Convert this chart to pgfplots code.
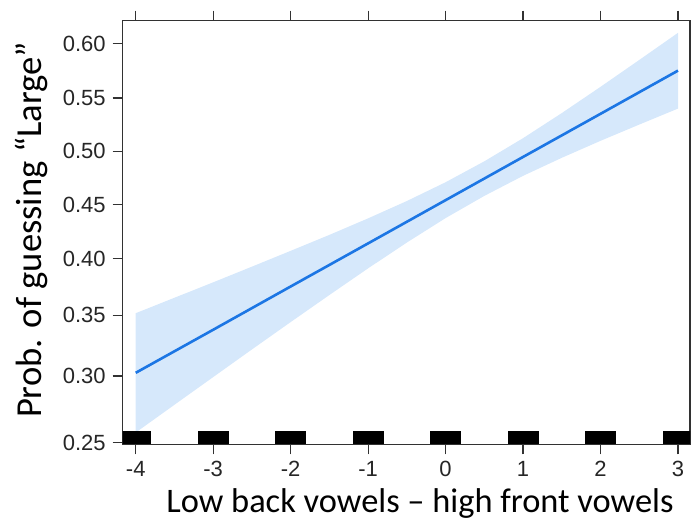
\documentclass[border=0pt]{standalone}
\usepackage{fontspec}
\setmainfont{Liberation Sans}
\newfontfamily\calibri{Carlito}
\usepackage{pgfplots}
\pgfplotsset{compat=1.18}

\definecolor{lineblue}{RGB}{28,118,228}
\definecolor{bandblue}{RGB}{214,232,251}
\definecolor{axisgray}{RGB}{50,50,50}

% rug mark: a flat black block, centred on its data point
\pgfdeclareplotmark{rug}{%
  \pgfpathrectangle{\pgfpoint{-7.75pt}{-3.25pt}}{\pgfpoint{15.5pt}{6.5pt}}%
  \pgfusepathqfill}

\begin{document}
\begin{tikzpicture}
\begin{axis}[
    scale only axis,
    width=283.65pt, height=211.8pt,
    xmin=-4.168, xmax=3.155,
    ymin=0.2488, ymax=0.6206,
    % logit scale on y, as in the effects plot
    y coord trafo/.code={\pgfmathparse{ln(#1/(1-#1))}},
    y coord inv trafo/.code={\pgfmathparse{1/(1+exp(-#1))}},
    xtick={-4,-3,-2,-1,0,1,2,3},
    xticklabels={-4,-3,-2,-1,0,1,2,3},
    ytick={0.25,0.30,0.35,0.40,0.45,0.50,0.55,0.60},
    yticklabels={0.25,0.30,0.35,0.40,0.45,0.50,0.55,0.60},
    xtick pos=both, xticklabel pos=lower, ytick pos=left,
    tick align=outside, major tick length=5pt,
    tick style={line width=0.6pt, axisgray},
    axis line style={line width=0.7pt, axisgray},
    ticklabel style={font=\fontsize{11}{13}\selectfont, text=black!85},
    /pgf/number format/assume math mode=true,
    xlabel={\calibri Low back vowels – high front vowels},
    ylabel={\calibri Prob. of guessing “Large”},
    xlabel style={font=\fontsize{17.2}{20}\selectfont, at={(rel axis cs:0.524,-0.160)}, anchor=base},
    ylabel style={font=\fontsize{18.3}{22}\selectfont, at={(rel axis cs:-0.144,0.506)}, anchor=base, rotate=0},
    clip marker paths=true,
]
% confidence band: upper edge left to right, lower edge right to left
\addplot[fill=bandblue, draw=none] coordinates {
    (-4,0.3519) (-3.5,0.3653) (-3,0.3789) (-2.5,0.3929) (-2,0.4072) (-1.5,0.4218)
    (-1,0.4371) (-0.5,0.4532) (0,0.4708) (0.5,0.4905) (1,0.5123) (1.5,0.5359)
    (2,0.5604) (2.5,0.5852) (3,0.6098)
    (3,0.5401) (2.5,0.5251) (2,0.5098) (1.5,0.4938) (1,0.4768) (0.5,0.4580)
    (0,0.4373) (-0.5,0.4148) (-1,0.3914) (-1.5,0.3677) (-2,0.3443) (-2.5,0.3214)
    (-3,0.2991) (-3.5,0.2777) (-4,0.2572)
} -- cycle;
% fitted probability
\addplot[lineblue, line width=1.3pt] coordinates {
    (-4,0.3025) (-3,0.3378) (-2,0.3752) (-1,0.4140) (0,0.4540) (1,0.4946) (2,0.5352) (3,0.5754)
};
% rug of observed predictor values
\addplot[only marks, mark=rug, draw=black, fill=black] coordinates {
    (-4,0.2535) (-3,0.2535) (-2,0.2535) (-1,0.2535) (0,0.2535) (1,0.2535) (2,0.2535) (3,0.2535)
};
\end{axis}
\pgfresetboundingbox
\useasboundingbox ([shift={(-61.35pt,-38.85pt)}]current axis.south west)
    rectangle ([shift={(0.5pt,10.35pt)}]current axis.north east);
\end{tikzpicture}
\end{document}
